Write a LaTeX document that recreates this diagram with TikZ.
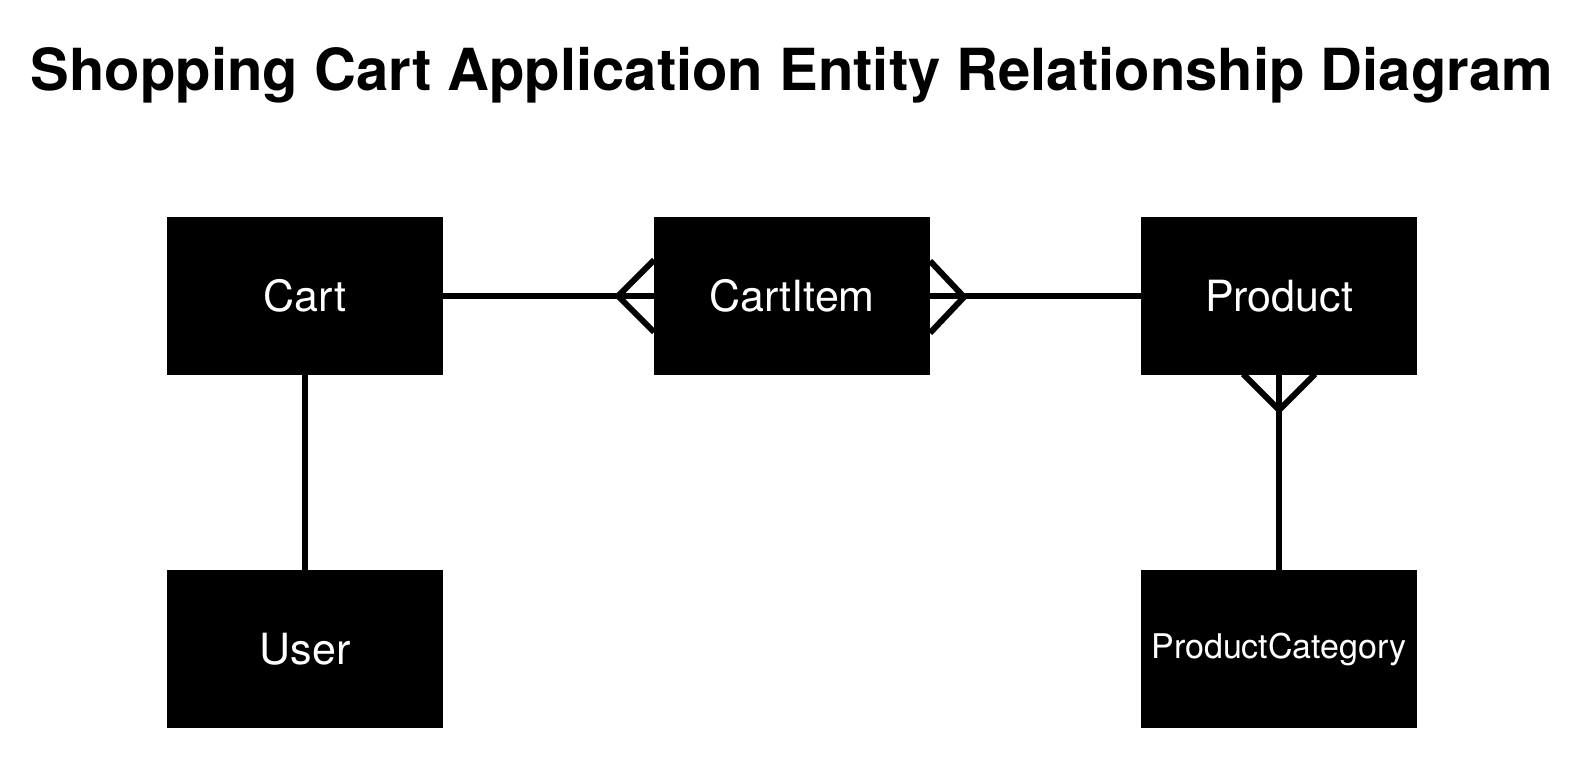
\documentclass[tikz,border=0pt]{standalone}
\usepackage{fontspec}
\setmainfont{TeX Gyre Heros}
\begin{document}
\begin{tikzpicture}[x=1pt,y=-1pt,
  entity/.style={fill=black,draw=none,text=white,minimum width=276pt,minimum height=158pt,inner sep=0pt,font=\fontsize{43}{50}\selectfont},
  conn/.style={line width=6pt}]
\useasboundingbox (0,0) rectangle (1584,779);
\node[font=\bfseries\fontsize{58}{66}\selectfont,anchor=base] (title) at (792,90) {Shopping Cart Application Entity Relationship Diagram};
% connectors first
\coordinate (cartC) at (305,296);
\coordinate (itemC) at (792,296);
\coordinate (prodC) at (1279,296);
\coordinate (userC) at (305,649);
\coordinate (catC) at (1279,649);
\draw[conn] (cartC) -- (itemC);
\draw[conn] (itemC) -- (prodC);
\draw[conn] (cartC) -- (userC);
\draw[conn] (prodC) -- (catC);
% crow's feet
\coordinate (a1) at (618,296);
\draw[conn] (654,260) -- (a1) -- (654,332);
\coordinate (a2) at (964,297);
\draw[conn] (930,261) -- (a2) -- (930,333);
\coordinate (a3) at (1279,410);
\draw[conn] (1243,374) -- (a3) -- (1315,374);
% entities
\node[entity] (cart) at (cartC) {Cart};
\node[entity] (item) at (itemC) {CartItem};
\node[entity] (prod) at (prodC) {Product};
\node[entity] (user) at (userC) {User};
\node[entity,font=\fontsize{34}{40}\selectfont] (cat) at (catC) {ProductCategory};
\end{tikzpicture}
\end{document}
